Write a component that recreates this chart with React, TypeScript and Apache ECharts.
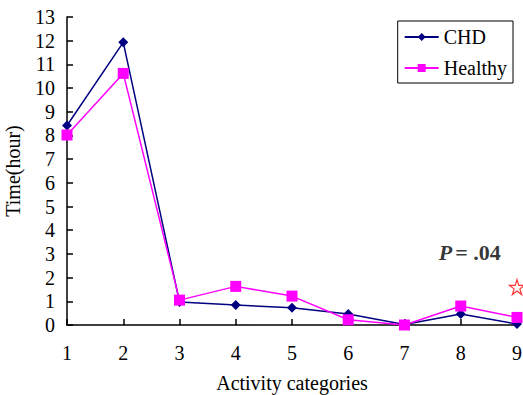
import React, { useEffect, useRef } from "react";
import * as echarts from "echarts";

const categories = [1, 2, 3, 4, 5, 6, 7, 8, 9];
const chdValues = [8.42, 11.93, 0.97, 0.84, 0.73, 0.46, 0.02, 0.46, 0.04];
const healthyValues = [8.02, 10.62, 1.05, 1.63, 1.22, 0.22, 0.0, 0.8, 0.32];
const yTicks = [0, 13];
const starPoint = [9, 1.6];
const pLabelPoint = [8.16, 3.05];

const STAR =
  "path://M50,0 L61.8,35.1 L98.9,35.1 L68.9,56.8 L80.3,91.9 L50,70.2 L19.7,91.9 L31.1,56.8 L1.1,35.1 L38.2,35.1 Z";

export default function App() {
  const ref = useRef<HTMLDivElement>(null);
  useEffect(() => {
    document.body.style.margin = "0";
    const chart = echarts.init(ref.current!, null, { renderer: "svg" });
    const font = "'Liberation Serif', 'Times New Roman', serif";
    chart.setOption({
      animation: false,
      backgroundColor: "#fff",
      textStyle: { fontFamily: font },
      grid: { left: 67, right: 6, top: 17, bottom: 70, containLabel: false, outerBoundsMode: "none" },
      legend: {
        right: 10,
        top: 21,
        orient: "vertical",
        backgroundColor: "#fff",
        borderColor: "#000",
        borderWidth: 1,
        borderRadius: 0,
        padding: [6, 6, 5, 6],
        itemWidth: 34,
        itemHeight: 10,
        itemGap: 11,
        data: ["CHD", "Healthy"],
        textStyle: { fontFamily: font, fontSize: 20, color: "#000" },
      },
      xAxis: {
        type: "value",
        min: categories[0],
        max: categories[categories.length - 1],
        interval: 1,
        name: "Activity categories",
        nameLocation: "middle",
        nameGap: 48,
        nameTextStyle: { fontFamily: font, fontSize: 20, color: "#000" },
        axisLine: { lineStyle: { color: "#000", width: 1.5 } },
        axisTick: { inside: true, length: 6, lineStyle: { color: "#000", width: 1.5 } },
        axisLabel: { fontFamily: font, fontSize: 20, color: "#000", margin: 18 },
        splitLine: { show: false },
      },
      yAxis: {
        type: "value",
        min: yTicks[0],
        max: yTicks[1],
        interval: 1,
        name: "Time(hour)",
        nameLocation: "middle",
        nameGap: 44,
        nameTextStyle: { fontFamily: font, fontSize: 20, color: "#000" },
        axisLine: { show: true, lineStyle: { color: "#000", width: 1.5 } },
        axisTick: { show: true, inside: true, length: 6, lineStyle: { color: "#000", width: 1.5 } },
        axisLabel: { fontFamily: font, fontSize: 20, color: "#000", margin: 12 },
        splitLine: { show: false },
      },
      series: [
        {
          name: "CHD",
          type: "line",
          data: categories.map((c, i) => [c, chdValues[i]]),
          symbol: "diamond",
          symbolSize: 10,
          color: "#000080",
          lineStyle: { color: "#000080", width: 1.5 },
          itemStyle: { color: "#000080" },
          z: 3,
        },
        {
          name: "Healthy",
          type: "line",
          data: categories.map((c, i) => [c, healthyValues[i]]),
          symbol: "rect",
          symbolSize: 11,
          color: "#ff00ff",
          lineStyle: { color: "#ff00ff", width: 1.5 },
          itemStyle: { color: "#ff00ff" },
          z: 4,
        },
        {
          name: "star",
          type: "scatter",
          data: [starPoint],
          symbol: STAR,
          symbolSize: 15,
          itemStyle: { color: "#fff", borderColor: "#ff0000", borderWidth: 1.2 },
          silent: true,
          z: 5,
        },
        {
          name: "plabel",
          type: "scatter",
          data: [pLabelPoint],
          symbolSize: 0,
          silent: true,
          label: {
            show: true,
            position: "inside",
            formatter: "{p|P} {b|= .04}",
            rich: {
              p: { fontFamily: font, fontSize: 22, fontWeight: "bold", fontStyle: "italic", color: "#000" },
              b: { fontFamily: font, fontSize: 22, fontWeight: "bold", color: "#000" },
            },
          },
        },
      ],
    });
    return () => chart.dispose();
  }, []);
  return <div ref={ref} style={{ width: 523, height: 395 }} />;
}
